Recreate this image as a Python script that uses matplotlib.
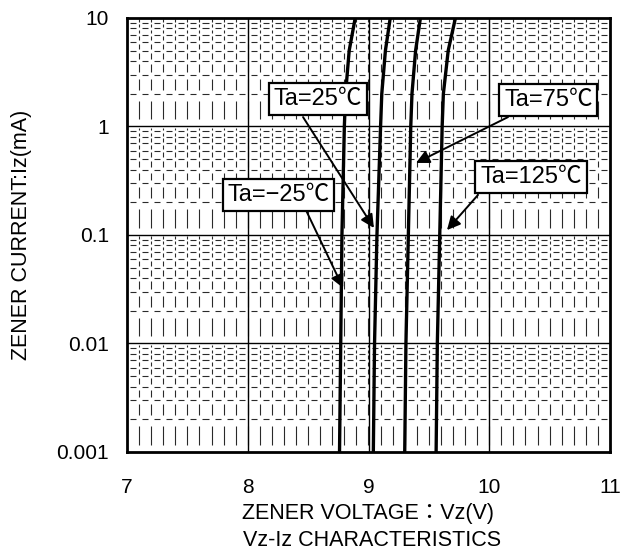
import numpy as np
import matplotlib
matplotlib.use("Agg")
import matplotlib.pyplot as plt

plt.rcParams["font.family"] = ["Liberation Sans", "Noto Sans CJK JP", "DejaVu Sans"]
plt.rcParams["lines.scale_dashes"] = False

# Zener current points (mA) and measured voltage at each temperature
iz = [0.001, 0.01, 0.1, 1, 2, 5, 10]
vz_m25 = [8.76, 8.77, 8.78, 8.80, 8.81, 8.84, 8.89]
vz_25 = [9.04, 9.05, 9.07, 9.10, 9.11, 9.14, 9.18]
vz_75 = [9.30, 9.31, 9.33, 9.35, 9.36, 9.39, 9.43]
vz_125 = [9.56, 9.57, 9.59, 9.61, 9.62, 9.66, 9.72]

labels = ["Ta=25℃", "Ta=75℃", "Ta=−25℃", "Ta=125℃"]
label_xy = [(8.578, 1.79), (10.49, 1.75), (8.255, 0.234), (10.346, 0.343)]
arrow_from = [(8.458, 1.22), (10.155, 1.22), (8.488, 0.164), (9.907, 0.234)]
arrow_to = [(9.045, 0.116), (9.393, 0.461), (8.79, 0.0325), (9.65, 0.111)]

fig = plt.figure(figsize=(6.25, 5.58), dpi=100)
ax = fig.add_axes([0.2032, 0.190, 0.7728, 0.7778])
ax.set_yscale("log")
ax.set_xlim(7, 11)
ax.set_ylim(0.001, 10)

# dashed minor grid: short bars between neighbouring grid lines
hx = np.arange(7.0, 11.0, 0.1)
xs = np.arange(7.1, 11.0, 0.1)
for dec in [0.001, 0.01, 0.1, 1]:
    for k in range(2, 10):
        y = k * dec
        ax.hlines([y] * len(hx), hx + 0.025, hx + 0.075, color="#2a2a2a", lw=0.8, zorder=1)
    for k in range(1, 10):
        lo, hi = np.log10(k * dec), np.log10((k + 1) * dec)
        mid, half = (lo + hi) / 2, (hi - lo) / 3.5
        ax.vlines(xs, 10 ** (mid - half), 10 ** (mid + half), color="#2a2a2a", lw=0.8, zorder=1)

for x in [8, 9, 10]:
    ax.axvline(x, color="black", lw=1.0, zorder=2)
for y in [0.01, 0.1, 1]:
    ax.axhline(y, color="black", lw=1.0, zorder=2)

for vz in [vz_m25, vz_25, vz_75, vz_125]:
    ax.plot(vz, iz, color="black", lw=2.4, zorder=4)

for text, pos, src, dst in zip(labels, label_xy, arrow_from, arrow_to):
    ax.annotate("", xy=dst, xytext=src,
                arrowprops=dict(arrowstyle="-|>", color="black", lw=1.4,
                                mutation_scale=20, shrinkA=0, shrinkB=0),
                zorder=5)
    ax.text(pos[0], pos[1], text, ha="center", va="center", fontsize=17, zorder=6,
            bbox=dict(boxstyle="square,pad=0.2", fc="white", ec="black", lw=1.6))

ax.set_xticks([7, 8, 9, 10, 11])
ax.set_xticklabels(["7", "8", "9", "10", "11"])
ax.set_yticks([0.001, 0.01, 0.1, 1, 10])
ax.set_yticklabels(["0.001", "0.01", "0.1", "1", "10"])
ax.yaxis.set_minor_locator(matplotlib.ticker.NullLocator())
ax.tick_params(length=0, labelsize=15)
ax.tick_params(axis="x", pad=19)
ax.tick_params(axis="y", pad=13)

for s in ax.spines.values():
    s.set_linewidth(2)

ax.set_xlabel("ZENER VOLTAGE：Vz(V)", fontsize=15.5)
ax.xaxis.set_label_coords(0.5, -0.1175)
ax.set_ylabel("ZENER CURRENT:Iz(mA)", fontsize=15.5)
ax.yaxis.set_label_coords(-0.197, 0.5)
fig.text(0.595, 0.032, "Vz-Iz CHARACTERISTICS", ha="center", va="center", fontsize=15.5)

fig.savefig("out.png", dpi=100)
